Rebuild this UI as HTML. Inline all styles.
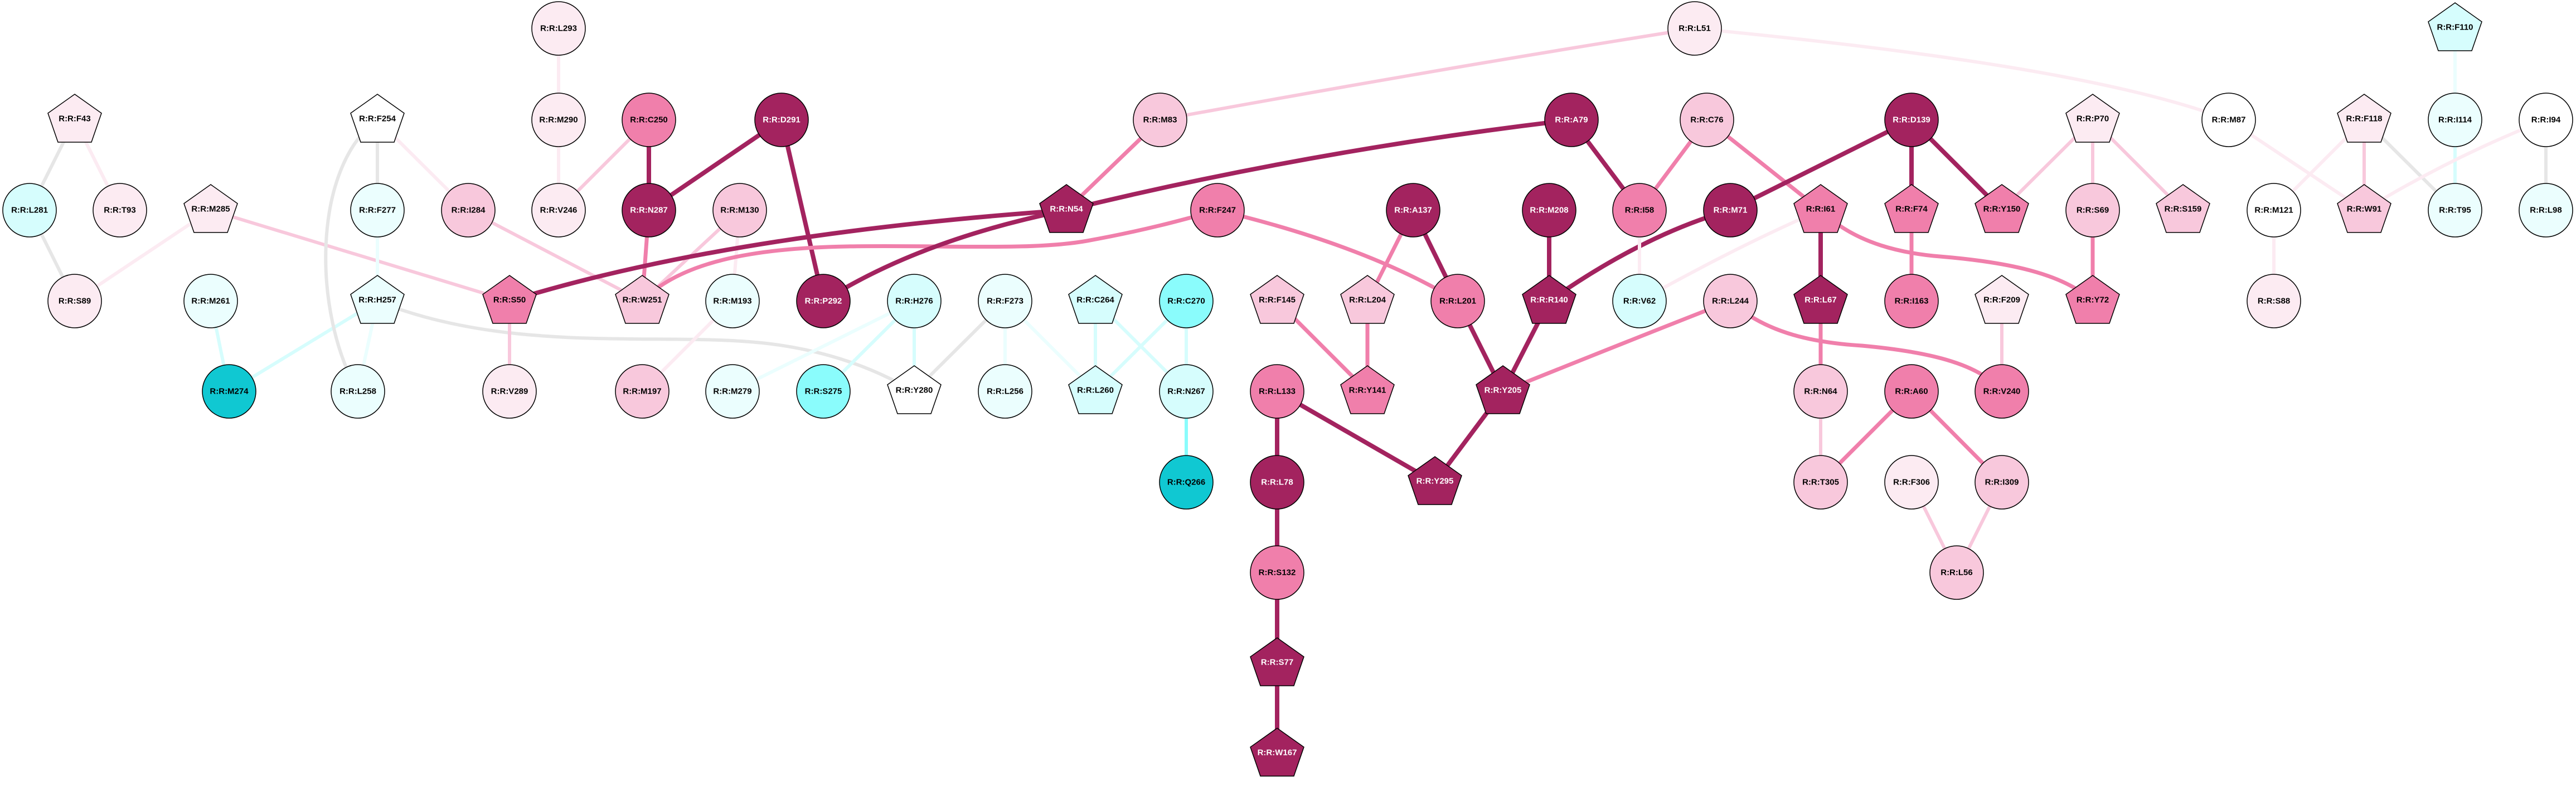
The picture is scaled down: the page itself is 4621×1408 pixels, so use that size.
<!DOCTYPE html>
<html><head><meta charset="utf-8"><style>
html,body{margin:0;padding:0;background:#fff;}
svg{display:block;}
text{font-family:"Liberation Sans",Arial,sans-serif;font-size:15px;font-weight:bold;text-anchor:middle;dominant-baseline:central;}
.w{fill:#fff}.b{fill:#000}
.n{stroke:#000;stroke-width:1.5}
.e{fill:none;stroke-linecap:butt}
.D{stroke:#a3235f;stroke-width:8}
.M{stroke:#f07fab;stroke-width:7}
.P{stroke:#f8c8dc;stroke-width:6}
.L{stroke:#fcebf2;stroke-width:6}
.G{stroke:#e6e6e6;stroke-width:6}
.C{stroke:#d6fdfd;stroke-width:6}
.V{stroke:#ebfefe;stroke-width:6}
.Q{stroke:#8afcfc;stroke-width:6}
</style></head><body>
<svg width="4621" height="1408" viewBox="0 0 4621 1408" xmlns="http://www.w3.org/2000/svg">
<defs>
<polygon id="pg" points="0,-46 48,-12 30,40 -30,40 -48,-12"/>
</defs>
<!-- edges -->
<g>
<line class="e G" x1="134" y1="215" x2="53" y2="377"/>
<line class="e L" x1="134" y1="215" x2="215" y2="377"/>
<line class="e G" x1="53" y1="377" x2="134" y2="540"/>
<line class="e L" x1="378" y1="377" x2="134" y2="540"/>
<line class="e P" x1="378" y1="377" x2="914" y2="540"/>
<line class="e C" x1="378" y1="540" x2="411" y2="702"/>
<line class="e C" x1="677" y1="540" x2="411" y2="702"/>
<line class="e G" x1="677" y1="215" x2="677" y2="377"/>
<line class="e L" x1="677" y1="215" x2="840" y2="377"/>
<path class="e G" d="M677,215 C560,300 560,560 642,702"/>
<line class="e V" x1="677" y1="377" x2="677" y2="540"/>
<line class="e V" x1="677" y1="540" x2="642" y2="702"/>
<path class="e G" d="M677,540 C900,630 1150,600 1330,612 C1500,622 1600,680 1640,702"/>
<line class="e P" x1="840" y1="377" x2="1152" y2="540"/>
<line class="e L" x1="1002" y1="51" x2="1002" y2="215"/>
<line class="e L" x1="1002" y1="215" x2="1002" y2="377"/>
<line class="e P" x1="1164" y1="215" x2="1002" y2="377"/>
<line class="e D" x1="1164" y1="215" x2="1164" y2="377"/>
<line class="e D" x1="1402" y1="215" x2="1164" y2="377"/>
<line class="e D" x1="1402" y1="215" x2="1477" y2="540"/>
<line class="e M" x1="1164" y1="377" x2="1152" y2="540"/>
<line class="e P" x1="1327" y1="377" x2="1152" y2="540"/>
<line class="e L" x1="1327" y1="377" x2="1314" y2="540"/>
<line class="e L" x1="1314" y1="540" x2="1152" y2="702"/>
<line class="e P" x1="914" y1="540" x2="914" y2="702"/>
<path class="e D" d="M914,540 Q1300,420 1913,377"/>
<path class="e M" d="M1152,540 C1220,470 1350,445 1520,442 S1850,450 1950,432 S2120,395 2184,377"/>
<path class="e D" d="M1477,540 Q1650,430 1913,377"/>
<line class="e V" x1="1640" y1="540" x2="1314" y2="702"/>
<line class="e C" x1="1640" y1="540" x2="1477" y2="702"/>
<line class="e C" x1="1640" y1="540" x2="1640" y2="702"/>
<line class="e G" x1="1803" y1="540" x2="1640" y2="702"/>
<line class="e V" x1="1803" y1="540" x2="1803" y2="702"/>
<line class="e V" x1="1803" y1="540" x2="1965" y2="702"/>
<line class="e C" x1="1965" y1="540" x2="1965" y2="702"/>
<line class="e C" x1="1965" y1="540" x2="2128" y2="702"/>
<line class="e C" x1="2128" y1="540" x2="1965" y2="702"/>
<line class="e C" x1="2128" y1="540" x2="2128" y2="702"/>
<line class="e Q" x1="2128" y1="702" x2="2128" y2="865"/>
<line class="e M" x1="2081" y1="215" x2="1913" y2="377"/>
<path class="e P" d="M2081,215 Q2600,120 3040,51"/>
<path class="e D" d="M1913,377 Q2350,270 2819,215"/>
<path class="e M" d="M2184,377 Q2450,440 2615,540"/>
<line class="e M" x1="2535" y1="377" x2="2453" y2="540"/>
<line class="e D" x1="2535" y1="377" x2="2615" y2="540"/>
<line class="e M" x1="2291" y1="540" x2="2453" y2="702"/>
<line class="e M" x1="2453" y1="540" x2="2453" y2="702"/>
<line class="e D" x1="2615" y1="540" x2="2696" y2="702"/>
<line class="e D" x1="2779" y1="377" x2="2779" y2="540"/>
<line class="e D" x1="2779" y1="540" x2="2696" y2="702"/>
<path class="e D" d="M2779,540 Q2950,420 3104,377"/>
<line class="e D" x1="2819" y1="215" x2="2941" y2="377"/>
<line class="e M" x1="3062" y1="215" x2="2941" y2="377"/>
<line class="e L" x1="2941" y1="377" x2="2941" y2="540"/>
<path class="e L" d="M2941,540 Q3120,440 3266,377"/>
<path class="e M" d="M2696,702 Q2950,600 3104,540"/>
<line class="e D" x1="2696" y1="702" x2="2574" y2="865"/>
<line class="e D" x1="2291" y1="702" x2="2574" y2="865"/>
<line class="e D" x1="2291" y1="702" x2="2291" y2="865"/>
<line class="e D" x1="2291" y1="865" x2="2291" y2="1027"/>
<line class="e D" x1="2291" y1="1027" x2="2291" y2="1190"/>
<line class="e D" x1="2291" y1="1190" x2="2291" y2="1352"/>
<path class="e L" d="M3040,51 C3450,90 3800,140 3998,215"/>
<line class="e M" x1="3062" y1="215" x2="3266" y2="377"/>
<line class="e D" x1="3429" y1="215" x2="3104" y2="377"/>
<line class="e D" x1="3429" y1="215" x2="3429" y2="377"/>
<line class="e D" x1="3429" y1="215" x2="3591" y2="377"/>
<line class="e P" x1="3754" y1="215" x2="3591" y2="377"/>
<line class="e P" x1="3754" y1="215" x2="3754" y2="377"/>
<line class="e P" x1="3754" y1="215" x2="3916" y2="377"/>
<line class="e D" x1="3266" y1="377" x2="3266" y2="540"/>
<path class="e M" d="M3266,377 C3330,440 3420,455 3480,460 C3600,470 3700,490 3754,540"/>
<line class="e M" x1="3429" y1="377" x2="3429" y2="540"/>
<line class="e M" x1="3754" y1="377" x2="3754" y2="540"/>
<path class="e M" d="M3104,540 C3170,600 3260,615 3340,620 C3450,630 3550,650 3591,702"/>
<line class="e M" x1="3266" y1="540" x2="3266" y2="702"/>
<line class="e P" x1="3591" y1="540" x2="3591" y2="702"/>
<line class="e P" x1="3266" y1="702" x2="3266" y2="865"/>
<line class="e M" x1="3429" y1="702" x2="3266" y2="865"/>
<line class="e M" x1="3429" y1="702" x2="3591" y2="865"/>
<line class="e P" x1="3429" y1="865" x2="3510" y2="1027"/>
<line class="e P" x1="3591" y1="865" x2="3510" y2="1027"/>
<line class="e L" x1="3998" y1="215" x2="4241" y2="377"/>
<line class="e L" x1="4241" y1="215" x2="4079" y2="377"/>
<line class="e P" x1="4241" y1="215" x2="4241" y2="377"/>
<line class="e G" x1="4241" y1="215" x2="4404" y2="377"/>
<line class="e V" x1="4404" y1="51" x2="4404" y2="215"/>
<line class="e C" x1="4404" y1="215" x2="4404" y2="377"/>
<path class="e L" d="M4567,215 Q4400,280 4241,377"/>
<line class="e G" x1="4567" y1="215" x2="4567" y2="377"/>
<line class="e L" x1="4079" y1="377" x2="4079" y2="540"/>
</g>
<!-- nodes -->
<g>
<use href="#pg" class="n" x="134" y="215" fill="#fcebf2"/><text class="b" x="134" y="213">R:R:F43</text>
<ellipse class="n" cx="53" cy="377" rx="48" ry="48" fill="#d6fdfd"/><text class="b" x="53" y="377">R:R:L281</text>
<ellipse class="n" cx="215" cy="377" rx="48" ry="48" fill="#fcebf2"/><text class="b" x="215" y="377">R:R:T93</text>
<use href="#pg" class="n" x="378" y="377" fill="#fcebf2"/><text class="b" x="378" y="375">R:R:M285</text>
<ellipse class="n" cx="134" cy="540" rx="48" ry="48" fill="#fcebf2"/><text class="b" x="134" y="540">R:R:S89</text>
<ellipse class="n" cx="378" cy="540" rx="48" ry="48" fill="#ebfefe"/><text class="b" x="378" y="540">R:R:M261</text>
<ellipse class="n" cx="411" cy="702" rx="48" ry="48" fill="#10c8d2"/><text class="b" x="411" y="702">R:R:M274</text>
<use href="#pg" class="n" x="677" y="215" fill="#ffffff"/><text class="b" x="677" y="213">R:R:F254</text>
<ellipse class="n" cx="677" cy="377" rx="48" ry="48" fill="#ebfefe"/><text class="b" x="677" y="377">R:R:F277</text>
<use href="#pg" class="n" x="677" y="540" fill="#ebfefe"/><text class="b" x="677" y="538">R:R:H257</text>
<ellipse class="n" cx="642" cy="702" rx="48" ry="48" fill="#ebfefe"/><text class="b" x="642" y="702">R:R:L258</text>
<ellipse class="n" cx="840" cy="377" rx="48" ry="48" fill="#f8c8dc"/><text class="b" x="840" y="377">R:R:I284</text>
<use href="#pg" class="n" x="914" y="540" fill="#f07fab"/><text class="b" x="914" y="538">R:R:S50</text>
<ellipse class="n" cx="914" cy="702" rx="48" ry="48" fill="#fcebf2"/><text class="b" x="914" y="702">R:R:V289</text>
<ellipse class="n" cx="1002" cy="51" rx="48" ry="48" fill="#fcebf2"/><text class="b" x="1002" y="51">R:R:L293</text>
<ellipse class="n" cx="1002" cy="215" rx="48" ry="48" fill="#fcebf2"/><text class="b" x="1002" y="215">R:R:M290</text>
<ellipse class="n" cx="1002" cy="377" rx="48" ry="48" fill="#fcebf2"/><text class="b" x="1002" y="377">R:R:V246</text>
<ellipse class="n" cx="1164" cy="215" rx="48" ry="48" fill="#f07fab"/><text class="b" x="1164" y="215">R:R:C250</text>
<ellipse class="n" cx="1164" cy="377" rx="48" ry="48" fill="#a3235f"/><text class="w" x="1164" y="377">R:R:N287</text>
<ellipse class="n" cx="1402" cy="215" rx="48" ry="48" fill="#a3235f"/><text class="w" x="1402" y="215">R:R:D291</text>
<ellipse class="n" cx="1327" cy="377" rx="48" ry="48" fill="#f8c8dc"/><text class="b" x="1327" y="377">R:R:M130</text>
<use href="#pg" class="n" x="1152" y="540" fill="#f8c8dc"/><text class="b" x="1152" y="538">R:R:W251</text>
<ellipse class="n" cx="1314" cy="540" rx="48" ry="48" fill="#ebfefe"/><text class="b" x="1314" y="540">R:R:M193</text>
<ellipse class="n" cx="1152" cy="702" rx="48" ry="48" fill="#f8c8dc"/><text class="b" x="1152" y="702">R:R:M197</text>
<ellipse class="n" cx="1314" cy="702" rx="48" ry="48" fill="#ebfefe"/><text class="b" x="1314" y="702">R:R:M279</text>
<ellipse class="n" cx="1477" cy="540" rx="48" ry="48" fill="#a3235f"/><text class="w" x="1477" y="540">R:R:P292</text>
<ellipse class="n" cx="1477" cy="702" rx="48" ry="48" fill="#8afcfc"/><text class="b" x="1477" y="702">R:R:S275</text>
<ellipse class="n" cx="1640" cy="540" rx="48" ry="48" fill="#d6fdfd"/><text class="b" x="1640" y="540">R:R:H276</text>
<use href="#pg" class="n" x="1640" y="702" fill="#ffffff"/><text class="b" x="1640" y="700">R:R:Y280</text>
<ellipse class="n" cx="1803" cy="540" rx="48" ry="48" fill="#ebfefe"/><text class="b" x="1803" y="540">R:R:F273</text>
<ellipse class="n" cx="1803" cy="702" rx="48" ry="48" fill="#ebfefe"/><text class="b" x="1803" y="702">R:R:L256</text>
<use href="#pg" class="n" x="1965" y="540" fill="#d6fdfd"/><text class="b" x="1965" y="538">R:R:C264</text>
<use href="#pg" class="n" x="1965" y="702" fill="#d6fdfd"/><text class="b" x="1965" y="700">R:R:L260</text>
<ellipse class="n" cx="2128" cy="540" rx="48" ry="48" fill="#8afcfc"/><text class="b" x="2128" y="540">R:R:C270</text>
<ellipse class="n" cx="2128" cy="702" rx="48" ry="48" fill="#d6fdfd"/><text class="b" x="2128" y="702">R:R:N267</text>
<ellipse class="n" cx="2128" cy="865" rx="48" ry="48" fill="#10c8d2"/><text class="b" x="2128" y="865">R:R:Q266</text>
<ellipse class="n" cx="2081" cy="215" rx="48" ry="48" fill="#f8c8dc"/><text class="b" x="2081" y="215">R:R:M83</text>
<use href="#pg" class="n" x="1913" y="377" fill="#a3235f"/><text class="w" x="1913" y="375">R:R:N54</text>
<ellipse class="n" cx="2184" cy="377" rx="48" ry="48" fill="#f07fab"/><text class="b" x="2184" y="377">R:R:F247</text>
<ellipse class="n" cx="3040" cy="51" rx="48" ry="48" fill="#fcebf2"/><text class="b" x="3040" y="51">R:R:L51</text>
<ellipse class="n" cx="2819" cy="215" rx="48" ry="48" fill="#a3235f"/><text class="w" x="2819" y="215">R:R:A79</text>
<ellipse class="n" cx="3062" cy="215" rx="48" ry="48" fill="#f8c8dc"/><text class="b" x="3062" y="215">R:R:C76</text>
<ellipse class="n" cx="2535" cy="377" rx="48" ry="48" fill="#a3235f"/><text class="w" x="2535" y="377">R:R:A137</text>
<ellipse class="n" cx="2779" cy="377" rx="48" ry="48" fill="#a3235f"/><text class="w" x="2779" y="377">R:R:M208</text>
<ellipse class="n" cx="2941" cy="377" rx="48" ry="48" fill="#f07fab"/><text class="b" x="2941" y="377">R:R:I58</text>
<use href="#pg" class="n" x="2291" y="540" fill="#f8c8dc"/><text class="b" x="2291" y="538">R:R:F145</text>
<use href="#pg" class="n" x="2453" y="540" fill="#f8c8dc"/><text class="b" x="2453" y="538">R:R:L204</text>
<ellipse class="n" cx="2615" cy="540" rx="48" ry="48" fill="#f07fab"/><text class="b" x="2615" y="540">R:R:L201</text>
<use href="#pg" class="n" x="2779" y="540" fill="#a3235f"/><text class="w" x="2779" y="538">R:R:R140</text>
<ellipse class="n" cx="2941" cy="540" rx="48" ry="48" fill="#d6fdfd"/><text class="b" x="2941" y="540">R:R:V62</text>
<use href="#pg" class="n" x="2453" y="702" fill="#f07fab"/><text class="b" x="2453" y="700">R:R:Y141</text>
<ellipse class="n" cx="2291" cy="702" rx="48" ry="48" fill="#f07fab"/><text class="b" x="2291" y="702">R:R:L133</text>
<use href="#pg" class="n" x="2696" y="702" fill="#a3235f"/><text class="w" x="2696" y="700">R:R:Y205</text>
<use href="#pg" class="n" x="2574" y="865" fill="#a3235f"/><text class="w" x="2574" y="863">R:R:Y295</text>
<ellipse class="n" cx="2291" cy="865" rx="48" ry="48" fill="#a3235f"/><text class="w" x="2291" y="865">R:R:L78</text>
<ellipse class="n" cx="2291" cy="1027" rx="48" ry="48" fill="#f07fab"/><text class="b" x="2291" y="1027">R:R:S132</text>
<use href="#pg" class="n" x="2291" y="1190" fill="#a3235f"/><text class="w" x="2291" y="1188">R:R:S77</text>
<use href="#pg" class="n" x="2291" y="1352" fill="#a3235f"/><text class="w" x="2291" y="1350">R:R:W167</text>
<ellipse class="n" cx="3104" cy="377" rx="48" ry="48" fill="#a3235f"/><text class="w" x="3104" y="377">R:R:M71</text>
<use href="#pg" class="n" x="3266" y="377" fill="#f07fab"/><text class="b" x="3266" y="375">R:R:I61</text>
<ellipse class="n" cx="3429" cy="215" rx="48" ry="48" fill="#a3235f"/><text class="w" x="3429" y="215">R:R:D139</text>
<use href="#pg" class="n" x="3429" y="377" fill="#f07fab"/><text class="b" x="3429" y="375">R:R:F74</text>
<use href="#pg" class="n" x="3591" y="377" fill="#f07fab"/><text class="b" x="3591" y="375">R:R:Y150</text>
<use href="#pg" class="n" x="3754" y="215" fill="#fcebf2"/><text class="b" x="3754" y="213">R:R:P70</text>
<ellipse class="n" cx="3754" cy="377" rx="48" ry="48" fill="#f8c8dc"/><text class="b" x="3754" y="377">R:R:S69</text>
<use href="#pg" class="n" x="3916" y="377" fill="#f8c8dc"/><text class="b" x="3916" y="375">R:R:S159</text>
<ellipse class="n" cx="3104" cy="540" rx="48" ry="48" fill="#f8c8dc"/><text class="b" x="3104" y="540">R:R:L244</text>
<use href="#pg" class="n" x="3266" y="540" fill="#a3235f"/><text class="w" x="3266" y="538">R:R:L67</text>
<ellipse class="n" cx="3429" cy="540" rx="48" ry="48" fill="#f07fab"/><text class="b" x="3429" y="540">R:R:I163</text>
<use href="#pg" class="n" x="3591" y="540" fill="#fcebf2"/><text class="b" x="3591" y="538">R:R:F209</text>
<use href="#pg" class="n" x="3754" y="540" fill="#f07fab"/><text class="b" x="3754" y="538">R:R:Y72</text>
<ellipse class="n" cx="3266" cy="702" rx="48" ry="48" fill="#f8c8dc"/><text class="b" x="3266" y="702">R:R:N64</text>
<ellipse class="n" cx="3429" cy="702" rx="48" ry="48" fill="#f07fab"/><text class="b" x="3429" y="702">R:R:A60</text>
<ellipse class="n" cx="3591" cy="702" rx="48" ry="48" fill="#f07fab"/><text class="b" x="3591" y="702">R:R:V240</text>
<ellipse class="n" cx="3266" cy="865" rx="48" ry="48" fill="#f8c8dc"/><text class="b" x="3266" y="865">R:R:T305</text>
<ellipse class="n" cx="3429" cy="865" rx="48" ry="48" fill="#fcebf2"/><text class="b" x="3429" y="865">R:R:F306</text>
<ellipse class="n" cx="3591" cy="865" rx="48" ry="48" fill="#f8c8dc"/><text class="b" x="3591" y="865">R:R:I309</text>
<ellipse class="n" cx="3510" cy="1027" rx="48" ry="48" fill="#f8c8dc"/><text class="b" x="3510" y="1027">R:R:L56</text>
<ellipse class="n" cx="3998" cy="215" rx="48" ry="48" fill="#ffffff"/><text class="b" x="3998" y="215">R:R:M87</text>
<ellipse class="n" cx="4079" cy="377" rx="48" ry="48" fill="#ffffff"/><text class="b" x="4079" y="377">R:R:M121</text>
<ellipse class="n" cx="4079" cy="540" rx="48" ry="48" fill="#fcebf2"/><text class="b" x="4079" y="540">R:R:S88</text>
<use href="#pg" class="n" x="4241" y="215" fill="#fcebf2"/><text class="b" x="4241" y="213">R:R:F118</text>
<use href="#pg" class="n" x="4241" y="377" fill="#f8c8dc"/><text class="b" x="4241" y="375">R:R:W91</text>
<use href="#pg" class="n" x="4404" y="51" fill="#d6fdfd"/><text class="b" x="4404" y="49">R:R:F110</text>
<ellipse class="n" cx="4404" cy="215" rx="48" ry="48" fill="#ebfefe"/><text class="b" x="4404" y="215">R:R:I114</text>
<ellipse class="n" cx="4404" cy="377" rx="48" ry="48" fill="#ebfefe"/><text class="b" x="4404" y="377">R:R:T95</text>
<ellipse class="n" cx="4567" cy="215" rx="48" ry="48" fill="#ffffff"/><text class="b" x="4567" y="215">R:R:I94</text>
<ellipse class="n" cx="4567" cy="377" rx="48" ry="48" fill="#ebfefe"/><text class="b" x="4567" y="377">R:R:L98</text>
</g>
</svg>
</body></html>
